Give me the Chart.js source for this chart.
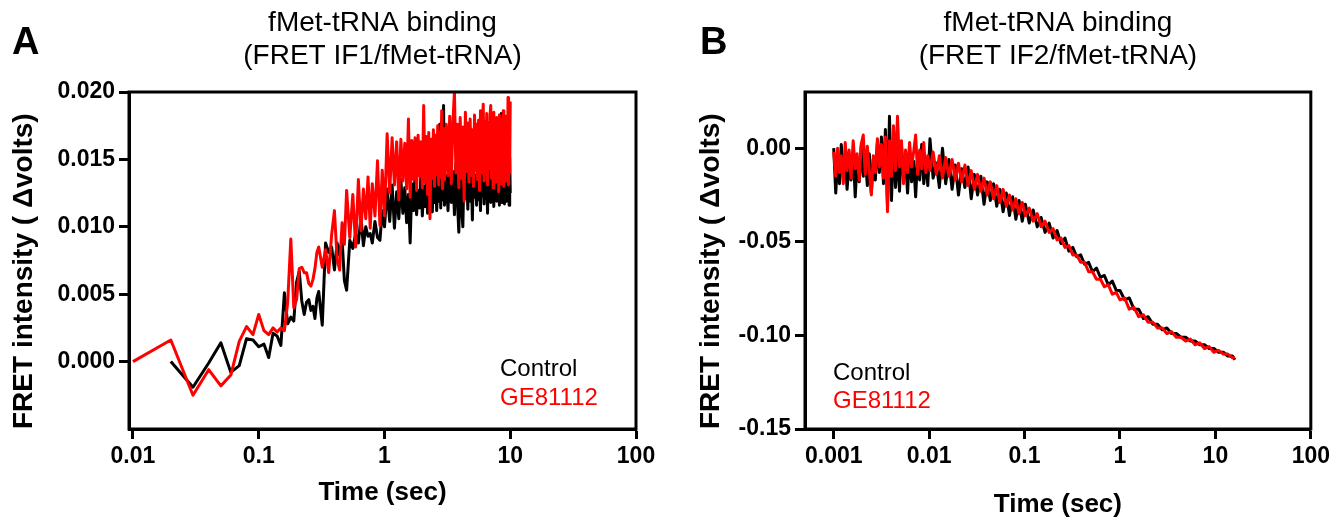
<!DOCTYPE html>
<html>
<head>
<meta charset="utf-8">
<script src="https://cdn.jsdelivr.net/npm/chart.js@4.4.1/dist/chart.umd.min.js"></script>
<style>
  html, body { margin: 0; padding: 0; background: #fff; }
  #wrap { position: relative; width: 1334px; height: 521px; overflow: hidden; background: #fff; }
  .panel { position: absolute; top: 0; width: 667px; height: 521px; }
  #pA { left: 0; }
  #pB { left: 667px; }
  .plabel { position: absolute; top: 20px; font: bold 38px "Liberation Sans", Arial, sans-serif; color: #000; line-height: 1.15; }
</style>
</head>
<body>
<div id="wrap">
  <div class="panel" id="pA"><canvas id="cA" width="667" height="521"></canvas></div>
  <div class="panel" id="pB"><canvas id="cB" width="667" height="521"></canvas></div>
  <div class="plabel" style="left:12px">A</div>
  <div class="plabel" style="left:700px">B</div>
</div>
<script>
// ---------------- DATA ----------------
const seriesNames = ['Control', 'GE81112'];
const seriesColors = ['#000000', '#ff0000'];

const titleA = ['fMet-tRNA binding', '(FRET IF1/fMet-tRNA)'];
const titleB = ['fMet-tRNA binding', '(FRET IF2/fMet-tRNA)'];
const yTitle = 'FRET intensity ( \u0394volts)';
const xTitle = 'Time (sec)';

const xTickValsA = [0.01, 0.1, 1, 10, 100];
const xTickLabelsA = ['0.01', '0.1', '1', '10', '100'];
const yTickValsA = [0, 0.005, 0.010, 0.015, 0.020];
const yTickLabelsA = ['0.000', '0.005', '0.010', '0.015', '0.020'];

const xTickValsB = [0.001, 0.01, 0.1, 1, 10, 100];
const xTickLabelsB = ['0.001', '0.01', '0.1', '1', '10', '100'];
const yTickValsB = [-0.15, -0.10, -0.05, 0.00];
const yTickLabelsB = ['-0.15', '-0.10', '-0.05', '0.00'];

// Panel A: time (s)
const timeA = [
  0.01,0.02,0.03,0.04,0.05,0.06,0.07,0.08,0.09,0.10,
  0.11,0.12,0.13,0.14,0.15,0.16,0.17,0.18,0.19,0.20,
  0.21,0.22,0.23,0.24,0.25,0.26,0.27,0.28,0.29,0.30,
  0.32,0.34,0.36,0.38,0.40,0.42,0.44,0.46,0.48,0.50,
  0.53,0.56,0.59,0.62,0.65,0.68,0.71,0.74,0.77,0.80,
  0.84,0.88,0.92,0.96,1.00,
  1.05,1.10,1.15,1.20,1.25,1.30,1.35,1.40,1.45,1.50,
  1.55,1.60,1.65,1.70,1.75,1.80,1.85,1.90,1.95,2.00,
  2.05,2.10,2.15,2.20,2.25,2.30,2.35,2.40,2.45,2.50,
  2.55,2.60,2.65,2.70,2.75,2.80,2.85,2.90,2.95,3.00,
  3.1,3.2,3.3,3.4,3.5,3.6,3.7,3.8,3.9,4.0,
  4.1,4.2,4.3,4.4,4.5,4.6,4.7,4.8,4.9,5.0,
  5.1,5.2,5.3,5.4,5.5,5.6,5.7,5.8,5.9,6.0,
  6.1,6.2,6.3,6.4,6.5,6.6,6.7,6.8,6.9,7.0,
  7.1,7.2,7.3,7.4,7.5,7.6,7.7,7.8,7.9,8.0,
  8.1,8.2,8.3,8.4,8.5,8.6,8.7,8.8,8.9,9.0,
  9.1,9.2,9.3,9.4,9.5,9.6,9.7,9.8,9.9,10.0
];
// Panel A: Control (black)
const controlA = [
  null,0.0000,-0.0019,-0.0001,0.0014,-0.0008,-0.0003,0.0017,0.0016,0.0011,
  0.0013,0.0003,0.0021,0.0019,0.0012,0.0051,0.0028,0.0033,0.0030,0.0059,
  0.0067,0.0045,0.0035,0.0044,0.0046,0.0038,0.0041,0.0032,0.0047,0.0052,
  0.0027,0.0088,0.0081,0.0085,0.0068,0.0088,0.0079,0.0091,0.0060,0.0053,
  0.0090,0.0084,0.0095,0.0088,0.0107,0.0086,0.0100,0.0093,0.0095,0.0088,
  0.0104,0.0092,0.0090,0.0112,0.0100,
  0.0128,0.0104,0.0131,0.0099,0.0126,0.0106,0.0135,0.0110,0.0129,0.0103,
  0.0124,0.0088,0.0132,0.0112,0.0138,0.0109,0.0127,0.0114,0.0140,0.0108,
  0.0130,0.0115,0.0137,0.0110,0.0128,0.0117,0.0142,0.0111,0.0133,0.0118,
  0.0145,0.0112,0.0131,0.0119,0.0176,0.0114,0.0136,0.0120,0.0190,0.0116,
  0.0138,0.0112,0.0150,0.0118,0.0141,0.0109,0.0147,0.0120,0.0096,0.0139,
  0.0115,0.0100,0.0148,0.0121,0.0143,0.0113,0.0151,0.0119,0.0140,0.0105,
  0.0146,0.0122,0.0138,0.0116,0.0152,0.0120,0.0142,0.0112,0.0149,0.0123,
  0.0137,0.0117,0.0155,0.0121,0.0144,0.0110,0.0150,0.0124,0.0139,0.0118,
  0.0153,0.0122,0.0141,0.0115,0.0148,0.0125,0.0136,0.0119,0.0157,0.0121,
  0.0143,0.0116,0.0150,0.0124,0.0184,0.0118,0.0146,0.0122,0.0181,0.0117,
  0.0149,0.0125,0.0140,0.0119,0.0154,0.0121,0.0145,0.0116,0.0151,0.0125
];
// Panel A: GE81112 (red)
const drugA = [
  0.0000,0.0016,-0.0025,-0.0006,-0.0018,-0.0010,0.0015,0.0026,0.0020,0.0035,
  0.0023,0.0020,0.0025,0.0022,0.0025,0.0023,0.0044,0.0091,0.0040,0.0046,
  0.0069,0.0070,0.0066,0.0066,0.0058,0.0056,0.0061,0.0069,0.0081,0.0085,
  0.0070,0.0083,0.0066,0.0094,0.0112,0.0076,0.0068,0.0103,0.0087,0.0127,
  0.0092,0.0124,0.0085,0.0135,0.0097,0.0128,0.0106,0.0137,0.0099,0.0132,
  0.0108,0.0149,0.0101,0.0142,0.0108,
  0.0169,0.0125,0.0166,0.0131,0.0163,0.0120,0.0165,0.0134,0.0162,0.0128,
  0.0180,0.0122,0.0164,0.0135,0.0166,0.0127,0.0168,0.0138,0.0163,0.0129,
  0.0190,0.0133,0.0167,0.0124,0.0170,0.0106,0.0165,0.0136,0.0172,0.0130,
  0.0168,0.0139,0.0175,0.0131,0.0170,0.0137,0.0186,0.0128,0.0173,0.0135,
  0.0176,0.0138,0.0182,0.0132,0.0178,0.0200,0.0140,0.0176,0.0129,0.0181,
  0.0136,0.0174,0.0119,0.0185,0.0141,0.0177,0.0133,0.0180,0.0138,0.0172,
  0.0130,0.0183,0.0142,0.0176,0.0135,0.0179,0.0127,0.0186,0.0140,0.0175,
  0.0191,0.0134,0.0178,0.0139,0.0184,0.0131,0.0177,0.0143,0.0182,0.0190,
  0.0136,0.0179,0.0129,0.0185,0.0141,0.0176,0.0133,0.0181,0.0138,0.0174,
  0.0126,0.0183,0.0140,0.0178,0.0132,0.0180,0.0137,0.0186,0.0130,0.0177,
  0.0142,0.0182,0.0134,0.0179,0.0139,0.0196,0.0131,0.0184,0.0140,0.0193
];

// Panel B: time (s)
const timeB = [
  0.00100,0.00105,0.00110,0.00115,0.00120,0.00126,0.00132,0.00138,0.00145,0.00152,
  0.00160,0.00168,0.00176,0.00185,0.00194,0.00204,0.00214,0.00225,0.00236,0.00248,
  0.00260,0.00273,0.00287,0.00301,0.00316,0.00332,0.00348,0.00366,0.00384,0.00403,
  0.00423,0.00444,0.00466,0.00489,0.00513,0.00539,0.00566,0.00594,0.00624,0.00655,
  0.00688,0.00722,0.00758,0.00796,0.00836,0.00878,0.00922,0.00968,
  0.0102,0.0110,0.0119,0.0128,0.0138,0.0149,0.0161,0.0174,0.0188,0.0203,
  0.0219,0.0237,0.0256,0.0276,0.0298,0.0322,0.0348,0.0376,0.0406,0.0438,
  0.0473,0.0511,0.0552,0.0596,0.0644,0.0695,0.0751,0.0811,0.0876,0.0946,
  0.102,0.112,0.123,0.136,0.149,0.164,0.181,0.199,0.219,0.241,
  0.265,0.291,0.320,0.352,0.387,0.426,0.469,0.516,0.567,0.624,
  0.686,0.755,0.831,0.914,
  1.00,1.12,1.25,1.40,1.57,1.76,1.97,2.21,2.47,2.77,
  3.10,3.47,3.89,4.36,4.88,5.47,6.12,6.86,7.68,8.60,
  9.63,10.8,12.1,13.5,15.1,16.0
];
// Panel B: Control (black)
const controlB = [
  0.000,-0.024,-0.006,-0.019,0.002,-0.016,-0.004,-0.022,-0.008,-0.017,
  -0.002,-0.026,-0.007,-0.018,0.001,-0.015,-0.005,-0.020,-0.003,-0.024,
  -0.006,-0.017,0.003,-0.013,0.006,-0.019,0.010,-0.030,0.017,-0.028,
  0.004,-0.021,-0.002,-0.023,0.001,-0.016,-0.006,-0.024,-0.003,-0.018,
  -0.007,-0.026,-0.004,-0.017,0.002,-0.019,-0.006,-0.020,
  0.005,-0.016,-0.008,-0.021,0.000,-0.019,-0.006,-0.022,-0.009,-0.025,
  -0.011,-0.021,-0.010,-0.027,-0.014,-0.025,-0.015,-0.030,-0.018,-0.028,
  -0.019,-0.031,-0.022,-0.034,-0.024,-0.036,-0.026,-0.038,-0.028,-0.039,
  -0.030,-0.040,-0.033,-0.042,-0.037,-0.045,-0.040,-0.048,-0.044,-0.051,
  -0.048,-0.055,-0.053,-0.058,-0.057,-0.062,-0.061,-0.066,-0.064,-0.069,
  -0.068,-0.073,-0.071,-0.076,
  -0.076,-0.081,-0.080,-0.086,-0.086,-0.091,-0.090,-0.094,-0.094,-0.097,
  -0.096,-0.099,-0.099,-0.101,-0.101,-0.103,-0.103,-0.105,-0.105,-0.107,
  -0.107,-0.109,-0.109,-0.111,-0.111,-0.113
];
// Panel B: GE81112 (red)
const drugB = [
  -0.002,-0.015,0.000,-0.013,-0.004,-0.019,0.003,-0.012,-0.001,-0.016,
  0.004,-0.011,-0.003,-0.017,0.002,0.007,-0.014,0.001,-0.012,-0.025,
  -0.004,-0.013,0.005,-0.010,0.002,-0.016,0.006,-0.034,0.004,-0.015,
  0.012,-0.012,0.017,-0.010,0.004,-0.019,-0.001,-0.013,0.003,-0.010,
  -0.002,0.007,-0.014,-0.001,-0.011,0.003,-0.013,-0.004,
  -0.012,-0.002,-0.014,-0.004,-0.016,-0.005,-0.015,-0.006,-0.017,-0.008,
  -0.018,-0.009,-0.020,-0.012,-0.022,-0.014,-0.023,-0.016,-0.025,-0.018,
  -0.027,-0.020,-0.029,-0.022,-0.031,-0.025,-0.033,-0.027,-0.035,-0.029,
  -0.036,-0.032,-0.039,-0.035,-0.042,-0.039,-0.045,-0.043,-0.049,-0.048,
  -0.053,-0.052,-0.057,-0.057,-0.061,-0.061,-0.066,-0.066,-0.070,-0.070,
  -0.074,-0.073,-0.078,-0.077,
  -0.081,-0.080,-0.086,-0.085,-0.090,-0.089,-0.093,-0.093,-0.096,-0.096,
  -0.099,-0.098,-0.101,-0.101,-0.103,-0.102,-0.105,-0.104,-0.107,-0.106,
  -0.109,-0.108,-0.110,-0.110,-0.112,-0.112
];

// ---------------- CHARTS ----------------
const FONT = '"Liberation Sans", Arial, Helvetica, sans-serif';
Chart.defaults.font.family = FONT;
Chart.defaults.color = '#000';

const toPts = (xs, ys) => xs.map((x, i) => ({ x: x, y: ys[i] }));

const boxPlugin = {
  id: 'frameBox',
  afterDatasetsDraw(chart) {
    const { ctx, chartArea: a } = chart;
    ctx.save();
    ctx.strokeStyle = '#000';
    ctx.lineWidth = 3;
    ctx.strokeRect(a.left, a.top, a.right - a.left, a.bottom - a.top);
    ctx.restore();
  }
};
const notesPlugin = {
  id: 'inNotes',
  afterDraw(chart, args, opts) {
    const { ctx, chartArea: a } = chart;
    ctx.save();
    ctx.font = '24px ' + FONT;
    ctx.textBaseline = 'middle';
    ctx.textAlign = 'left';
    (opts.items || []).forEach(it => {
      ctx.fillStyle = it.color;
      ctx.fillText(it.text, a.left + it.dx, a.bottom - it.dy);
    });
    ctx.restore();
  }
};

function makeChart(id, cfg) {
  const ctx = document.getElementById(id);
  return new Chart(ctx, {
    type: 'line',
    data: {
      datasets: [
        { label: seriesNames[1], data: toPts(cfg.t, cfg.drug), borderColor: seriesColors[1],
          borderWidth: 3, pointRadius: 0, tension: 0, order: 0, borderJoinStyle: 'round' },
        { label: seriesNames[0], data: toPts(cfg.t, cfg.ctrl), borderColor: seriesColors[0],
          borderWidth: 3, pointRadius: 0, tension: 0, order: 1, borderJoinStyle: 'round' }
      ]
    },
    options: {
      responsive: false,
      animation: false,
      events: [],
      layout: { padding: { left: 0, right: cfg.padRight, top: 0, bottom: 0 } },
      plugins: {
        legend: { display: false },
        tooltip: { enabled: false },
        title: {
          display: true, text: cfg.title, fullSize: false, color: '#000',
          font: { size: 28, weight: 'normal', lineHeight: 1.2 },
          padding: { top: 6, bottom: 18.8 }
        },
        inNotes: { items: [
          { text: seriesNames[0], color: seriesColors[0], dx: cfg.noteDx, dy: cfg.noteDy[0] },
          { text: seriesNames[1], color: seriesColors[1], dx: cfg.noteDx, dy: cfg.noteDy[1] }
        ] }
      },
      scales: {
        x: {
          type: 'logarithmic', min: cfg.xMin, max: 100,
          afterBuildTicks: s => { s.ticks = cfg.xVals.map(v => ({ value: v })); },
          afterFit: s => { s.height = 92; },
          ticks: { autoSkip: false, maxRotation: 0, padding: 4, color: '#000',
                   font: { size: 23, weight: 'bold' },
                   callback: (v, i) => cfg.xLabels[i] },
          grid: { drawOnChartArea: false, drawTicks: true, tickLength: 10, tickWidth: 3, tickColor: '#000' },
          border: { display: true, color: '#000', width: 3 },
          title: { display: true, text: xTitle, color: '#000',
                   font: { size: 26, weight: 'bold', lineHeight: 1.2 },
                   padding: { top: 0, bottom: cfg.xTitlePadB } }
        },
        y: {
          type: 'linear', min: cfg.yMin, max: cfg.yMax,
          afterBuildTicks: s => { s.ticks = cfg.yVals.map(v => ({ value: v })); },
          afterFit: s => { s.width = cfg.yWidth; },
          ticks: { autoSkip: false, padding: 4, color: '#000',
                   font: { size: 23, weight: 'bold' },
                   callback: (v, i) => cfg.yLabels[i] },
          grid: { drawOnChartArea: false, drawTicks: true, tickLength: 10, tickWidth: 3, tickColor: '#000' },
          border: { display: true, color: '#000', width: 3 },
          title: { display: true, text: yTitle, align: 'start', color: '#000',
                   font: { size: 28, weight: 'bold', lineHeight: 1.2 },
                   padding: { top: cfg.yTitlePadT, bottom: 0 } }
        }
      }
    },
    plugins: [boxPlugin, notesPlugin]
  });
}

makeChart('cA', {
  t: timeA, ctrl: controlA, drug: drugA, title: titleA,
  xMin: 0.0093, xVals: xTickValsA, xLabels: xTickLabelsA,
  yMin: -0.005, yMax: 0.020, yVals: yTickValsA, yLabels: yTickLabelsA,
  yWidth: 129, padRight: 31, xTitlePadB: 13, yTitlePadT: 7,
  noteDx: 371, noteDy: [60, 31]
});
makeChart('cB', {
  t: timeB, ctrl: controlB, drug: drugB, title: titleB,
  xMin: 0.0005, xVals: xTickValsB, xLabels: xTickLabelsB,
  yMin: -0.15, yMax: 0.03, yVals: yTickValsB, yLabels: yTickLabelsB,
  yWidth: 138, padRight: 22, xTitlePadB: 1, yTitlePadT: 27,
  noteDx: 28, noteDy: [56, 28]
});
</script>
</body>
</html>
